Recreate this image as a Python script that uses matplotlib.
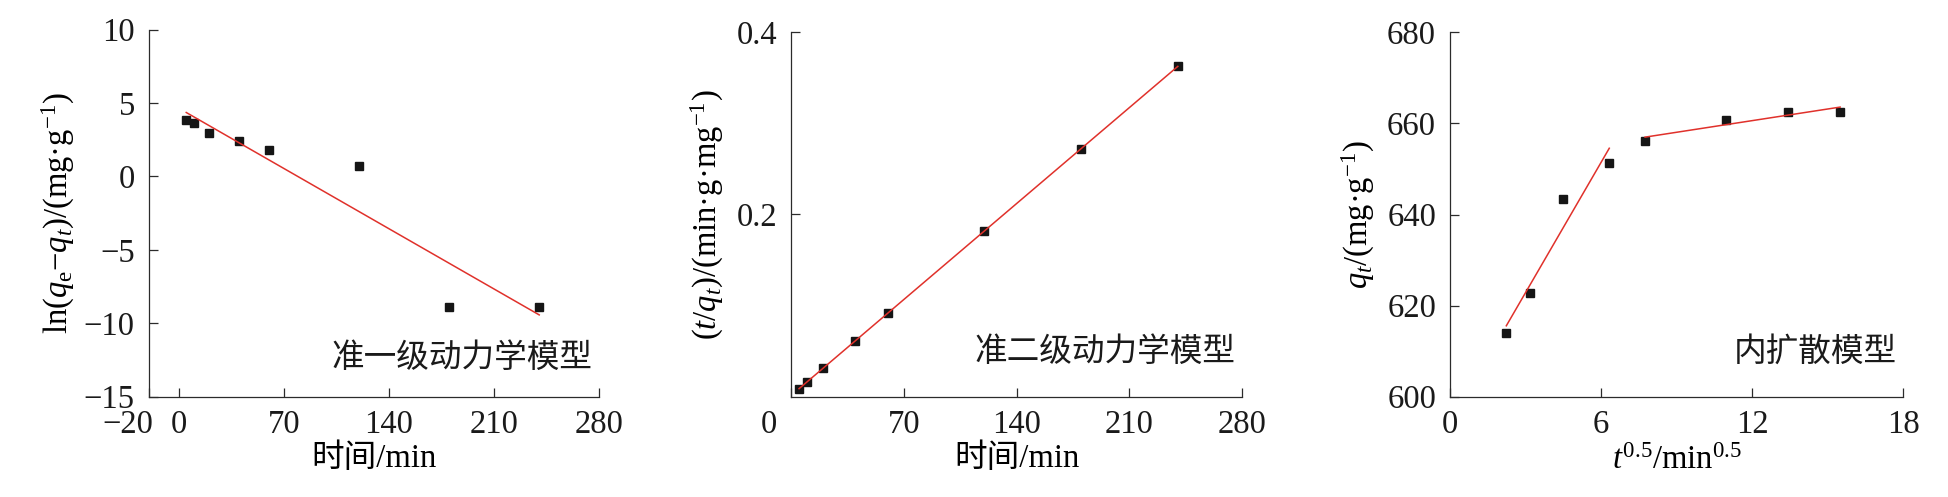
import matplotlib
matplotlib.use('Agg')
import matplotlib.pyplot as plt
import matplotlib.transforms as mtransforms
import numpy as np

plt.rcParams['font.family'] = ['Liberation Serif', 'Noto Sans CJK SC']
plt.rcParams['mathtext.fontset'] = 'custom'
plt.rcParams['mathtext.rm'] = 'Liberation Serif'
plt.rcParams['mathtext.it'] = 'Liberation Serif:italic'
plt.rcParams['axes.unicode_minus'] = True

# time points (min)
t = np.array([5, 10, 20, 40, 60, 120, 180, 240])
# pseudo-first-order: ln(qe - qt)
ln_qe_qt = np.array([3.83, 3.65, 2.93, 2.40, 1.79, 0.70, -8.87, -8.87])
# pseudo-second-order: t/qt
t_qt = np.array([0.0084, 0.0165, 0.0312, 0.0616, 0.0920, 0.1822, 0.2720, 0.3626])
# intra-particle diffusion: qt vs t^0.5
t_sqrt = np.sqrt(t)
qt = np.array([613.9, 622.8, 643.3, 651.4, 656.2, 660.7, 662.6, 662.6])
stage1 = slice(0, 4)
stage2 = slice(4, 8)

fs = 23.5
red = '#e0312b'
mk = dict(marker='s', ls='none', ms=6, color='#151515', zorder=2)
lw_fit = 1.1

W, H = 1949, 497
fig = plt.figure(figsize=(W / 100, H / 100), dpi=100)

def px_axes(left, right, top, bottom):
    return fig.add_axes([left / W, (H - bottom) / H, (right - left) / W, (bottom - top) / H])

def style(ax):
    for s in ['top', 'right']:
        ax.spines[s].set_visible(False)
    for s in ['left', 'bottom']:
        ax.spines[s].set_color('#2b2b2b')
        ax.spines[s].set_linewidth(0.9)
    ax.tick_params(axis='both', direction='in', length=6.7, width=0.9, color='#2b2b2b',
                   labelsize=fs, labelcolor='#1a1a1a')
    ax.tick_params(axis='x', pad=9)
    ax.tick_params(axis='y', pad=10)

def shift_first_xlabel(ax, dx):
    lbl = ax.get_xticklabels()[0]
    lbl.set_transform(lbl.get_transform() + mtransforms.ScaledTranslation(dx / 100, 0, fig.dpi_scale_trans))


# ---------------- panel 1 ----------------
ax1 = px_axes(148.7, 599.3, 29.5, 396.7)
style(ax1)
ax1.plot(t, ln_qe_qt, **mk)
k, b = np.polyfit(t, ln_qe_qt, 1)
xf = np.array([t[0], t[-1]])
ax1.plot(xf, k * xf + b, color=red, lw=lw_fit, zorder=3)
ax1.set_xlim(-20, 280)
ax1.set_ylim(-15, 10)
ax1.set_xticks([-20, 0, 70, 140, 210, 280])
ax1.set_yticks([-15, -10, -5, 0, 5, 10])
shift_first_xlabel(ax1, -21)
ax1.set_xlabel('时间/min', fontsize=fs, va='center')
ax1.xaxis.set_label_coords(0.5, -0.17)
ax1.set_ylabel('ln($q_\\mathrm{e}$−$q_t$)/(mg·g$^{-1}$)', fontsize=fs, va='center')
ax1.yaxis.set_label_coords(-0.201, 0.5)
ax1.text(0.984, 0.103, '准一级动力学模型', transform=ax1.transAxes, ha='right', va='center',
         fontsize=fs, color='#1a1a1a')

# ---------------- panel 2 ----------------
ax2 = px_axes(791, 1242.3, 32.3, 396.7)
style(ax2)
ax2.plot(t, t_qt, **mk)
k, b = np.polyfit(t, t_qt, 1)
ax2.plot(xf, k * xf + b, color=red, lw=lw_fit, zorder=3)
ax2.set_xlim(0, 280)
ax2.set_ylim(0, 0.4)
ax2.set_xticks([0, 70, 140, 210, 280])
ax2.set_yticks([0.2, 0.4])
shift_first_xlabel(ax2, -22)
ax2.set_xlabel('时间/min', fontsize=fs, va='center')
ax2.xaxis.set_label_coords(0.5, -0.17)
ax2.set_ylabel('($t$/$q_t$)/(min·g·mg$^{-1}$)', fontsize=fs, va='center')
ax2.yaxis.set_label_coords(-0.184, 0.5)
ax2.text(0.984, 0.121, '准二级动力学模型', transform=ax2.transAxes, ha='right', va='center',
         fontsize=fs, color='#1a1a1a')

# ---------------- panel 3 ----------------
ax3 = px_axes(1450, 1903.3, 32.3, 396.7)
style(ax3)
ax3.plot(t_sqrt, qt, **mk)
for seg in (stage1, stage2):
    xs, ys = t_sqrt[seg], qt[seg]
    k, b = np.polyfit(xs, ys, 1)
    xe = np.array([xs[0], xs[-1]])
    ax3.plot(xe, k * xe + b, color=red, lw=lw_fit, zorder=3)
ax3.set_xlim(0, 18)
ax3.set_ylim(600, 680)
ax3.set_xticks([0, 6, 12, 18])
ax3.set_yticks([600, 620, 640, 660, 680])
ax3.set_xlabel('$t^{0.5}$/min$^{0.5}$', fontsize=fs, va='center')
ax3.xaxis.set_label_coords(0.5, -0.175)
ax3.set_ylabel('$q_t$/(mg·g$^{-1}$)', fontsize=fs, va='center')
ax3.yaxis.set_label_coords(-0.203, 0.5)
ax3.text(0.985, 0.121, '内扩散模型', transform=ax3.transAxes, ha='right', va='center',
         fontsize=fs, color='#1a1a1a')

plt.savefig('out.png', dpi=100)
plt.close()
